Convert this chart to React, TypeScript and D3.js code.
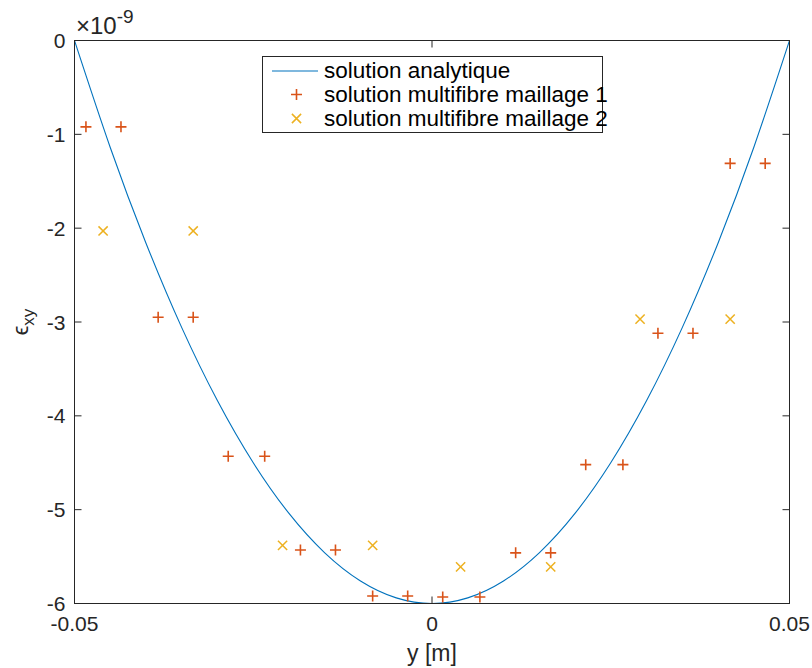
import React from "react";
import * as d3 from "d3";

// ---- data (strain values in units of 1e-9) ----
const xTicks = [-0.05, 0, 0.05];
const xTickLabels = ["-0.05", "0", "0.05"];
const yTicks = [0, -1, -2, -3, -4, -5, -6];
const yTickLabels = ["0", "-1", "-2", "-3", "-4", "-5", "-6"];

// analytic solution
const analyticX = [
  -0.05, -0.045, -0.04, -0.035, -0.03, -0.025, -0.02, -0.015, -0.01, -0.005, 0,
  0.005, 0.01, 0.015, 0.02, 0.025, 0.03, 0.035, 0.04, 0.045, 0.05,
];
const analyticY = [
  0, -1.14, -2.16, -3.06, -3.84, -4.5, -5.04, -5.46, -5.76, -5.94, -6,
  -5.94, -5.76, -5.46, -5.04, -4.5, -3.84, -3.06, -2.16, -1.14, 0,
];

// multifibre mesh 1
const mesh1X = [
  -0.0484, -0.0435, -0.0383, -0.0334, -0.0285, -0.0234, -0.0184, -0.0135,
  -0.0083, -0.0034, 0.0015, 0.0067, 0.0117, 0.0166, 0.0215, 0.0267, 0.0316,
  0.0365, 0.0417, 0.0466,
];
const mesh1Y = [
  -0.92, -0.92, -2.95, -2.95, -4.43, -4.43, -5.43, -5.43, -5.92, -5.92,
  -5.93, -5.93, -5.46, -5.46, -4.52, -4.52, -3.12, -3.12, -1.31, -1.31,
];

// multifibre mesh 2
const mesh2X = [-0.046, -0.0334, -0.0209, -0.0083, 0.004, 0.0166, 0.0291, 0.0417];
const mesh2Y = [-2.03, -2.03, -5.38, -5.38, -5.61, -5.61, -2.97, -2.97];

const legendLabels = [
  "solution analytique",
  "solution multifibre maillage 1",
  "solution multifibre maillage 2",
];

const C_LINE = "#0072BD";
const C_M1 = "#D95319";
const C_M2 = "#EDB120";
const AX = "#262626";
const FONT = "'Liberation Sans', Arial, Helvetica, sans-serif";

export default function App() {
  const W = 812;
  const H = 668;
  const left = 74.5;
  const right = 789.5;
  const top = 40.5;
  const bottom = 603.5;

  const x = d3.scaleLinear().domain([-0.05, 0.05]).range([left, right]);
  const y = d3.scaleLinear().domain([-6, 0]).range([bottom, top]);

  const line = d3
    .line<number>()
    .x((_, i) => x(analyticX[i]))
    .y((d) => y(d))
    .curve(d3.curveNatural);

  const tickLen = 7;
  const plus = (cx: number, cy: number, r: number) =>
    `M${cx - r},${cy}H${cx + r}M${cx},${cy - r}V${cy + r}`;
  const cross = (cx: number, cy: number, r: number) =>
    `M${cx - r},${cy - r}L${cx + r},${cy + r}M${cx - r},${cy + r}L${cx + r},${cy - r}`;

  const lg = { x: 262, y: 56, w: 340, h: 76 };
  const rowY = [71, 94.5, 118.5];

  return (
    <svg
      width={W}
      height={H}
      style={{ position: "absolute", left: 0, top: 0, background: "#fff" }}
      fontFamily={FONT}
    >
      <rect x={0} y={0} width={W} height={H} fill="#fff" />
      {/* analytic curve */}
      <path d={line(analyticY) || ""} fill="none" stroke={C_LINE} strokeWidth={1.1} />

      {/* mesh 1 markers */}
      {mesh1Y.map((v, i) => (
        <path
          key={"m1" + i}
          d={plus(x(mesh1X[i]), y(v), 5.5)}
          stroke={C_M1}
          strokeWidth={1.6}
          fill="none"
        />
      ))}
      {/* mesh 2 markers */}
      {mesh2Y.map((v, i) => (
        <path
          key={"m2" + i}
          d={cross(x(mesh2X[i]), y(v), 4.6)}
          stroke={C_M2}
          strokeWidth={1.5}
          fill="none"
        />
      ))}

      {/* axes box */}
      <rect
        x={left}
        y={top}
        width={right - left}
        height={bottom - top}
        fill="none"
        stroke={AX}
        strokeWidth={1}
      />

      {/* y ticks */}
      {yTicks.map((t, i) => (
        <g key={"yt" + i}>
          <line x1={left} x2={left + tickLen} y1={y(t)} y2={y(t)} stroke={AX} />
          <line x1={right} x2={right - tickLen} y1={y(t)} y2={y(t)} stroke={AX} />
          <text
            x={left - 9}
            y={y(t)}
            dy="0.36em"
            textAnchor="end"
            fontSize={21}
            fill={AX}
          >
            {yTickLabels[i]}
          </text>
        </g>
      ))}

      {/* x ticks */}
      {xTicks.map((t, i) => (
        <g key={"xt" + i}>
          <line x1={x(t)} x2={x(t)} y1={bottom} y2={bottom - tickLen} stroke={AX} />
          <line x1={x(t)} x2={x(t)} y1={top} y2={top + tickLen} stroke={AX} />
          <text x={x(t)} y={631} textAnchor="middle" fontSize={21} fill={AX}>
            {xTickLabels[i]}
          </text>
        </g>
      ))}

      {/* exponent label */}
      <text x={76} y={34} fontSize={24} fill={AX}>
        ×10
        <tspan dy={-11} fontSize={19}>
          -9
        </tspan>
      </text>

      {/* axis labels */}
      <text x={432} y={661} textAnchor="middle" fontSize={23} fill={AX}>
        y [m]
      </text>
      <text
        transform="translate(28,322) rotate(-90)"
        textAnchor="middle"
        fontSize={22}
        fill={AX}
      >
        ϵ
        <tspan dy={6} fontSize={17}>
          xy
        </tspan>
      </text>

      {/* legend */}
      <rect
        x={lg.x + 0.5}
        y={lg.y + 0.5}
        width={lg.w}
        height={lg.h}
        fill="#fff"
        stroke={AX}
        strokeWidth={1}
      />
      <line x1={272} x2={318} y1={rowY[0]} y2={rowY[0]} stroke={C_LINE} strokeWidth={1.1} />
      <path d={plus(296.5, rowY[1], 5.5)} stroke={C_M1} strokeWidth={1.6} fill="none" />
      <path d={cross(296.5, rowY[2], 4.6)} stroke={C_M2} strokeWidth={1.5} fill="none" />
      {legendLabels.map((s, i) => (
        <text key={"lg" + i} x={324} y={rowY[i]} dy="0.33em" fontSize={22.5} fill="#000">
          {s}
        </text>
      ))}
    </svg>
  );
}
